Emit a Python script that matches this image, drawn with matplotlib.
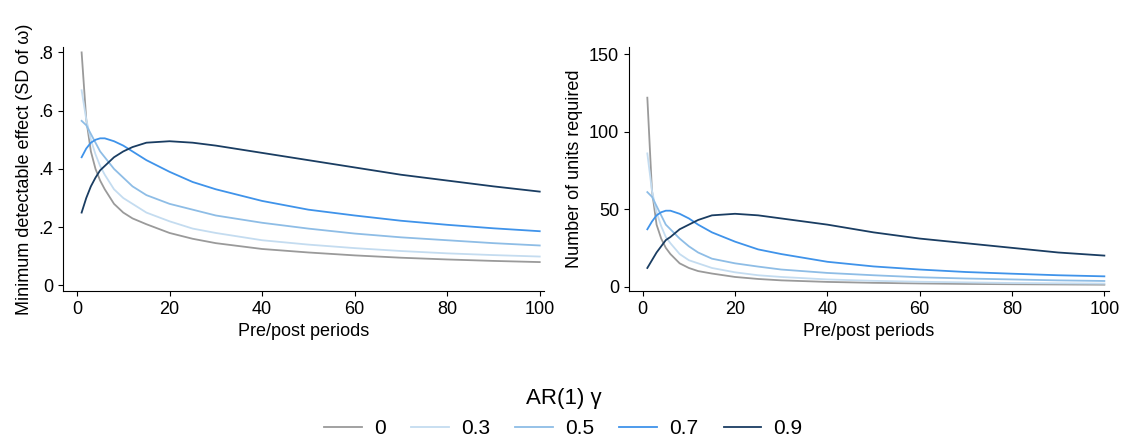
import matplotlib.pyplot as plt
from matplotlib.ticker import FuncFormatter

periods = [1, 2, 3, 4, 5, 6, 8, 10, 12, 15, 20, 25, 30, 40, 50, 60, 70, 80, 90, 100]
gammas = ["0", "0.3", "0.5", "0.7", "0.9"]

# minimum detectable effect (SD of omega)
mde = {
    "0":   [.80, .57, .46, .40, .36, .33, .28, .25, .23, .21, .18, .16, .145, .125, .113, .103, .095, .089, .084, .080],
    "0.3": [.67, .57, .50, .45, .41, .38, .33, .30, .28, .25, .22, .195, .18, .155, .14, .128, .118, .11, .104, .099],
    "0.5": [.565, .55, .52, .49, .46, .44, .40, .37, .34, .31, .28, .26, .24, .215, .195, .178, .165, .155, .145, .137],
    "0.7": [.44, .47, .49, .50, .505, .505, .495, .48, .46, .43, .39, .355, .33, .29, .26, .24, .222, .208, .196, .186],
    "0.9": [.25, .30, .34, .37, .395, .41, .44, .46, .475, .49, .495, .49, .48, .455, .43, .405, .38, .36, .34, .322],
}
# number of units required
units = {
    "0":   [122, 62, 40, 31, 25, 21, 15, 12, 10, 8.4, 6.2, 4.9, 4.0, 3.0, 2.4, 2.0, 1.7, 1.5, 1.35, 1.2],
    "0.3": [86, 62, 48, 39, 32, 28, 21, 17, 15, 12, 9.2, 7.3, 6.2, 4.6, 3.7, 3.1, 2.7, 2.3, 2.1, 1.9],
    "0.5": [61, 58, 52, 46, 40, 37, 31, 26, 22, 18, 15, 12.9, 11, 8.8, 7.3, 6.0, 5.2, 4.6, 4.0, 3.6],
    "0.7": [37, 42, 46, 48, 49, 49, 47, 44, 40, 35, 29, 24, 21, 16, 13, 11, 9.4, 8.3, 7.3, 6.6],
    "0.9": [12, 17, 22, 26, 30, 32, 37, 40, 43, 46, 47, 46, 44, 40, 35, 31, 28, 25, 22, 20],
}
colors = {"0": "#9a9a9a", "0.3": "#c4dcf0", "0.5": "#8ebde6", "0.7": "#3f93ea", "0.9": "#1a3d62"}

plt.rcParams['font.family'] = ['Liberation Sans', 'DejaVu Sans']
fig = plt.figure(figsize=(11.27, 4.48), dpi=100)
ax1 = fig.add_axes([0.056, 0.35, 0.427, 0.546])
ax2 = fig.add_axes([0.558, 0.35, 0.426, 0.546])

for ax, data in [(ax1, mde), (ax2, units)]:
    for g in gammas:
        ax.plot(periods, data[g], color=colors[g], lw=1.3, label=g)
    ax.set_xlim(-3, 101)
    ax.set_xticks([0, 20, 40, 60, 80, 100])
    ax.spines['top'].set_visible(False)
    ax.spines['right'].set_visible(False)
    ax.tick_params(labelsize=13)
    ax.set_xlabel("Pre/post periods", fontsize=13)

ax1.set_ylim(-0.02, 0.82)
ax1.set_yticks([0, .2, .4, .6, .8])
ax1.yaxis.set_major_formatter(FuncFormatter(lambda v, p: "0" if v == 0 else ("%.1f" % v).lstrip("0")))
ax1.set_ylabel("Minimum detectable effect (SD of ω)", fontsize=13)
ax2.set_ylim(-3, 155)
ax2.set_yticks([0, 50, 100, 150])
ax2.set_ylabel("Number of units required", fontsize=13)

h, l = ax1.get_legend_handles_labels()
fig.legend(h, l, loc='lower center', ncol=5, frameon=False, title="AR(1) γ",
           fontsize=15, title_fontsize=16, bbox_to_anchor=(0.5, -0.02),
           handlelength=1.8, handletextpad=0.6, columnspacing=1.2)

fig.savefig("out.png", dpi=100)
